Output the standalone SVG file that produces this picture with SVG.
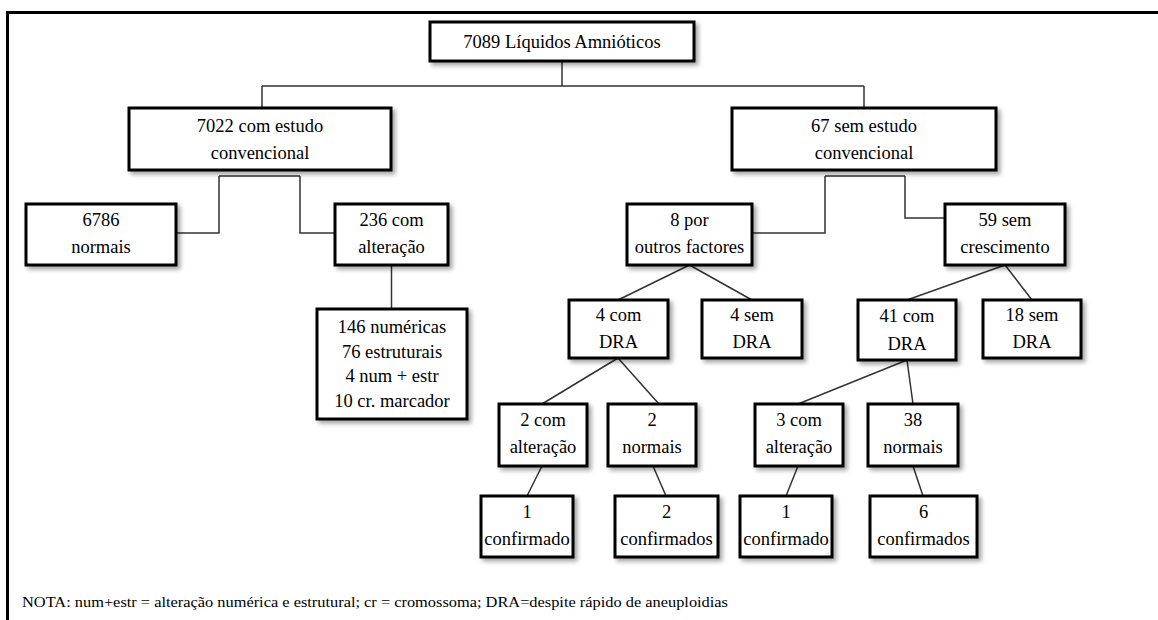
<svg xmlns="http://www.w3.org/2000/svg" width="1158" height="620" viewBox="0 0 1158 620">
<defs>
<filter id="sh" x="-10%" y="-10%" width="130%" height="140%">
<feDropShadow dx="3" dy="3" stdDeviation="2" flood-color="#000" flood-opacity="0.35"/>
</filter>
<style>
.box{fill:#fff;stroke:#000;stroke-width:3;filter:url(#sh)}
.t{font-size:18.5px;fill:#000;text-anchor:middle}
.c{fill:none;stroke:#333;stroke-width:1.5}
.frame{fill:none;stroke:#000;stroke-width:3}
.nota{font-size:15px;fill:#000}
</style>
</defs>
<rect width="1158" height="620" fill="#fff"/>
<path class="frame" d="M7.5,620 V12.5 H1158"/>
<g id="connectors">
<path class="c" d="M562,61 V86 M262,86 H864 M262,86 V108 M864,86 V108"/>
<path class="c" d="M219,176 H300 M219,176 V233 H176 M300,176 V233 H335"/>
<path class="c" d="M391.5,265 V309"/>
<path class="c" d="M825,176 H905 M825,176 V233 H752 M905,176 V218 H945"/>
<path class="c" d="M689.5,265 L618,300 M689.5,265 L752,300"/>
<path class="c" d="M1005,265 L907,300 M1005,265 L1032,300"/>
<path class="c" d="M618,358 L542,404 M618,358 L659,404"/>
<path class="c" d="M907,360 L798,404 M907,360 L913,404"/>
<path class="c" d="M542,466 L527,496 M653,466 L666,496"/>
<path class="c" d="M798,466 L786,496 M913,466 L923,496"/>
</g>
<g font-family="Liberation Serif, Times New Roman, serif">
<g id="n7089"><rect class="box" x="430" y="22" width="264" height="39"/><text class="t" x="562" y="48" font-size="20">7089 Líquidos Amnióticos</text></g>
<g id="n7022"><rect class="box" x="129" y="108" width="262" height="62"/><text class="t" x="260" y="132">7022 com  estudo</text><text class="t" x="260" y="159">convencional</text></g>
<g id="n67"><rect class="box" x="732" y="108" width="264" height="62"/><text class="t" x="864" y="132">67 sem estudo</text><text class="t" x="864" y="159">convencional</text></g>
<g id="n6786"><rect class="box" x="26" y="204" width="150" height="61"/><text class="t" x="101" y="226">6786</text><text class="t" x="101" y="253">normais</text></g>
<g id="n236"><rect class="box" x="335" y="204" width="113" height="61"/><text class="t" x="391.5" y="226">236 com</text><text class="t" x="391.5" y="253">alteração</text></g>
<g id="n146"><rect class="box" x="317" y="309" width="150" height="110"/><text class="t" x="392" y="333">146 numéricas</text><text class="t" x="392" y="357.5">76 estruturais</text><text class="t" x="392" y="382">4 num + estr</text><text class="t" x="392" y="406.5">10 cr. marcador</text></g>
<g id="n8"><rect class="box" x="627" y="204" width="125" height="61"/><text class="t" x="689.5" y="226">8 por</text><text class="t" x="689.5" y="253">outros factores</text></g>
<g id="n59"><rect class="box" x="945" y="204" width="120" height="61"/><text class="t" x="1005" y="226">59 sem</text><text class="t" x="1005" y="253">crescimento</text></g>
<g id="n4com"><rect class="box" x="569" y="300" width="99" height="58"/><text class="t" x="618.5" y="321">4 com</text><text class="t" x="618.5" y="348">DRA</text></g>
<g id="n4sem"><rect class="box" x="702" y="300" width="100" height="58"/><text class="t" x="752" y="321">4 sem</text><text class="t" x="752" y="348">DRA</text></g>
<g id="n41"><rect class="box" x="858" y="300" width="98" height="60"/><text class="t" x="907" y="322">41 com</text><text class="t" x="907" y="350">DRA</text></g>
<g id="n18"><rect class="box" x="983" y="300" width="98" height="58"/><text class="t" x="1032" y="321">18 sem</text><text class="t" x="1032" y="348">DRA</text></g>
<g id="n2alt"><rect class="box" x="499" y="404" width="88" height="62"/><text class="t" x="543" y="426">2 com</text><text class="t" x="543" y="453">alteração</text></g>
<g id="n2norm"><rect class="box" x="608" y="404" width="88" height="62"/><text class="t" x="652" y="426">2</text><text class="t" x="652" y="453">normais</text></g>
<g id="n3alt"><rect class="box" x="755" y="404" width="88" height="62"/><text class="t" x="799" y="426">3 com</text><text class="t" x="799" y="453">alteração</text></g>
<g id="n38"><rect class="box" x="868" y="404" width="90" height="62"/><text class="t" x="913" y="426">38</text><text class="t" x="913" y="453">normais</text></g>
<g id="n1conf"><rect class="box" x="481" y="496" width="92" height="61"/><text class="t" x="527" y="518">1</text><text class="t" x="527" y="545">confirmado</text></g>
<g id="n2conf"><rect class="box" x="615" y="496" width="103" height="61"/><text class="t" x="666.5" y="518">2</text><text class="t" x="666.5" y="545">confirmados</text></g>
<g id="n1conf2"><rect class="box" x="740" y="496" width="92" height="61"/><text class="t" x="786" y="518">1</text><text class="t" x="786" y="545">confirmado</text></g>
<g id="n6conf"><rect class="box" x="870" y="496" width="107" height="61"/><text class="t" x="923.5" y="518">6</text><text class="t" x="923.5" y="545">confirmados</text></g>
<text class="nota" x="22" y="607" textLength="706" lengthAdjust="spacingAndGlyphs">NOTA: num+estr = alteração  numérica e estrutural; cr = cromossoma; DRA=despite rápido de aneuploidias</text>
</g>
</svg>
